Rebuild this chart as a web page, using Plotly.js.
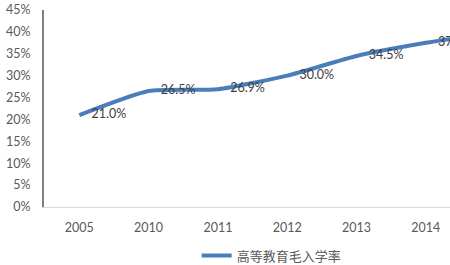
<!DOCTYPE html>
<html>
<head>
<meta charset="utf-8">
<script src="https://cdn.plot.ly/plotly-3.0.1.min.js"></script>
<style>html,body{margin:0;padding:0;overflow:hidden;background:#fff}</style>
</head>
<body>
<div id="chart" style="width:450px;height:265px"></div>
<script>
const years = ['2005','2010','2011','2012','2013','2014','2015'];
const rates = [21.0, 26.5, 26.9, 30.0, 34.5, 37.5, 40.0];
const seriesName = '高等教育毛入学率';
const yTicks = [0,5,10,15,20,25,30,35,40,45];

const labels = rates.map(v => v.toFixed(1) + '%');
const font = 'Lato, "Noto Sans CJK SC", sans-serif';
const lineStyle = {color: '#4a7ebb', width: 4, shape: 'spline', smoothing: 0.55};

Plotly.newPlot('chart', [{
  type: 'scatter',
  mode: 'lines',
  x: years,
  y: rates,
  name: seriesName,
  line: lineStyle,
  cliponaxis: true,
  hoverinfo: 'skip'
}, {
  type: 'scatter',
  mode: 'markers+text',
  x: years,
  y: rates,
  text: labels,
  showlegend: false,
  textposition: 'middle right',
  textfont: {family: font, size: 12.5, color: '#404040'},
  marker: {size: 18, color: 'rgba(0,0,0,0)'},
  cliponaxis: true,
  hoverinfo: 'skip'
}], {
  width: 450, height: 265,
  margin: {l: 44, r: 0, t: 10, b: 58, autoexpand: false},
  paper_bgcolor: '#fff', plot_bgcolor: '#fff',
  showlegend: true,
  legend: {orientation: 'h', x: 0.376, xanchor: 'left', y: -0.17, yanchor: 'top',
           font: {family: font, size: 13, color: '#595959'}, bgcolor: 'rgba(0,0,0,0)'},
  xaxis: {
    type: 'category', range: [-0.51, 5.35], automargin: false,
    showgrid: false, zeroline: false,
    showline: true, linecolor: '#d9d9d9', linewidth: 1,
    ticks: 'outside', ticklen: 9, tickcolor: 'rgba(0,0,0,0)',
    tickfont: {family: font, size: 12.5, color: '#595959'}
  },
  yaxis: {
    range: [0, 45], tickvals: yTicks, ticktext: yTicks.map(v => v + '%'), automargin: false,
    showgrid: false, zeroline: false,
    showline: true, linecolor: '#808080', linewidth: 2,
    ticks: 'outside', ticklen: 9, tickcolor: 'rgba(0,0,0,0)',
    tickfont: {family: font, size: 12.5, color: '#595959'}
  }
}, {displayModeBar: false, staticPlot: true});
</script>
</body>
</html>
